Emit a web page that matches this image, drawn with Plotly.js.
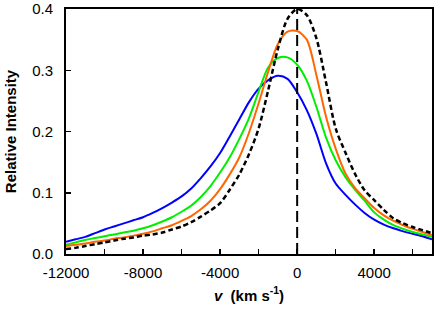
<!DOCTYPE html>
<html>
<head>
<meta charset="utf-8">
<script src="https://cdn.plot.ly/plotly-3.0.1.min.js"></script>
<style>html,body{margin:0;padding:0;background:#fff;}#chart{width:436px;height:313px;}</style>
</head>
<body>
<div id="chart"></div>
<script>
// velocity grid (km/s)
const velocity = [-12000,-11500,-11000,-10500,-10000,-9500,-9000,-8500,-8000,-7500,-7000,-6500,-6000,-5500,-5000,-4500,-4000,-3500,-3000,-2500,-2000,-1500,-1000,-500,0,500,1000,1500,2000,2500,3000,3500,4000,4500,5000,5500,6000,6500,7000];
// relative intensity series
const blueSeries   = [0.020,0.024,0.028,0.034,0.040,0.045,0.050,0.055,0.060,0.067,0.075,0.084,0.094,0.107,0.124,0.143,0.165,0.192,0.220,0.248,0.270,0.284,0.291,0.286,0.264,0.235,0.196,0.148,0.115,0.097,0.081,0.067,0.056,0.048,0.042,0.037,0.033,0.029,0.024];
const greenSeries  = [0.015,0.019,0.023,0.026,0.029,0.032,0.035,0.038,0.042,0.047,0.053,0.060,0.069,0.079,0.093,0.111,0.133,0.158,0.188,0.222,0.265,0.305,0.320,0.321,0.309,0.283,0.240,0.190,0.153,0.126,0.105,0.087,0.068,0.056,0.047,0.041,0.036,0.032,0.028];
const orangeSeries = [0.013,0.015,0.017,0.020,0.022,0.025,0.027,0.030,0.033,0.037,0.042,0.047,0.054,0.062,0.073,0.087,0.106,0.130,0.158,0.198,0.246,0.298,0.343,0.363,0.364,0.350,0.292,0.224,0.172,0.132,0.108,0.091,0.075,0.063,0.054,0.047,0.041,0.036,0.031];
const blackSeries  = [0.008,0.010,0.013,0.016,0.019,0.022,0.025,0.027,0.030,0.032,0.035,0.040,0.045,0.052,0.061,0.071,0.083,0.105,0.130,0.163,0.205,0.268,0.335,0.384,0.400,0.390,0.352,0.280,0.205,0.166,0.131,0.104,0.088,0.072,0.058,0.050,0.044,0.039,0.034];
// vertical reference line at v = 0
const refLineX = [0, 0];
const refLineY = [0, 0.4];
// tick labels
const xTickVals = [-12000,-8000,-4000,0,4000];
const xTickText = ["-12000","-8000","-4000","0","4000"];
const yTickVals = [0,0.1,0.2,0.3,0.4];
const yTickText = ["0.0","0.1","0.2","0.3","0.4"];

const lineShape = {shape:'spline', smoothing:0.8};
const traces = [
  {x:velocity, y:blueSeries, mode:'lines', line:Object.assign({color:'#0000ff', width:2}, lineShape)},
  {x:velocity, y:greenSeries, mode:'lines', line:Object.assign({color:'#00ee00', width:2}, lineShape)},
  {x:velocity, y:orangeSeries, mode:'lines', line:Object.assign({color:'#ff6600', width:2}, lineShape)},
  {x:velocity, y:blackSeries, mode:'lines', line:Object.assign({color:'#000000', width:2.5, dash:'5px,3px'}, lineShape)},
  {x:refLineX, y:refLineY, mode:'lines', line:{color:'#000000', width:2, dash:'11px,5px'}}
];

const font = {family:'"Liberation Sans", Arial, sans-serif', color:'#000', size:15};
const layout = {
  width:436, height:313,
  margin:{l:66, r:4, t:9, b:59},
  showlegend:false,
  paper_bgcolor:'#fff', plot_bgcolor:'#fff',
  font:font,
  xaxis:{
    range:[-12000,7000], showgrid:false, zeroline:false,
    showline:true, mirror:true, linecolor:'#000', linewidth:2,
    tickmode:'array', tickvals:xTickVals, ticktext:xTickText,
    ticks:'inside', ticklen:5, tickwidth:1.5, tickcolor:'#000',
    minor:{dtick:2000, tick0:-12000, ticks:'inside', ticklen:5, tickwidth:1.5, tickcolor:'#000', showgrid:false},
    tickfont:{size:15}, ticklabelstandoff:4,
    title:{text:'<b><i>v</i>  (km s<sup>-1</sup>)</b>', font:{size:15}, standoff:10}
  },
  yaxis:{
    range:[0,0.4], showgrid:false, zeroline:false,
    showline:true, mirror:true, linecolor:'#000', linewidth:2,
    tickmode:'array', tickvals:yTickVals, ticktext:yTickText,
    ticks:'inside', ticklen:5, tickwidth:1.5, tickcolor:'#000',
    tickfont:{size:15}, ticklabelstandoff:8,
    title:{text:'<b>Relative Intensity</b>', font:{size:15}, standoff:12}
  }
};
Plotly.newPlot('chart', traces, layout, {staticPlot:true, displayModeBar:false});
</script>
</body>
</html>
